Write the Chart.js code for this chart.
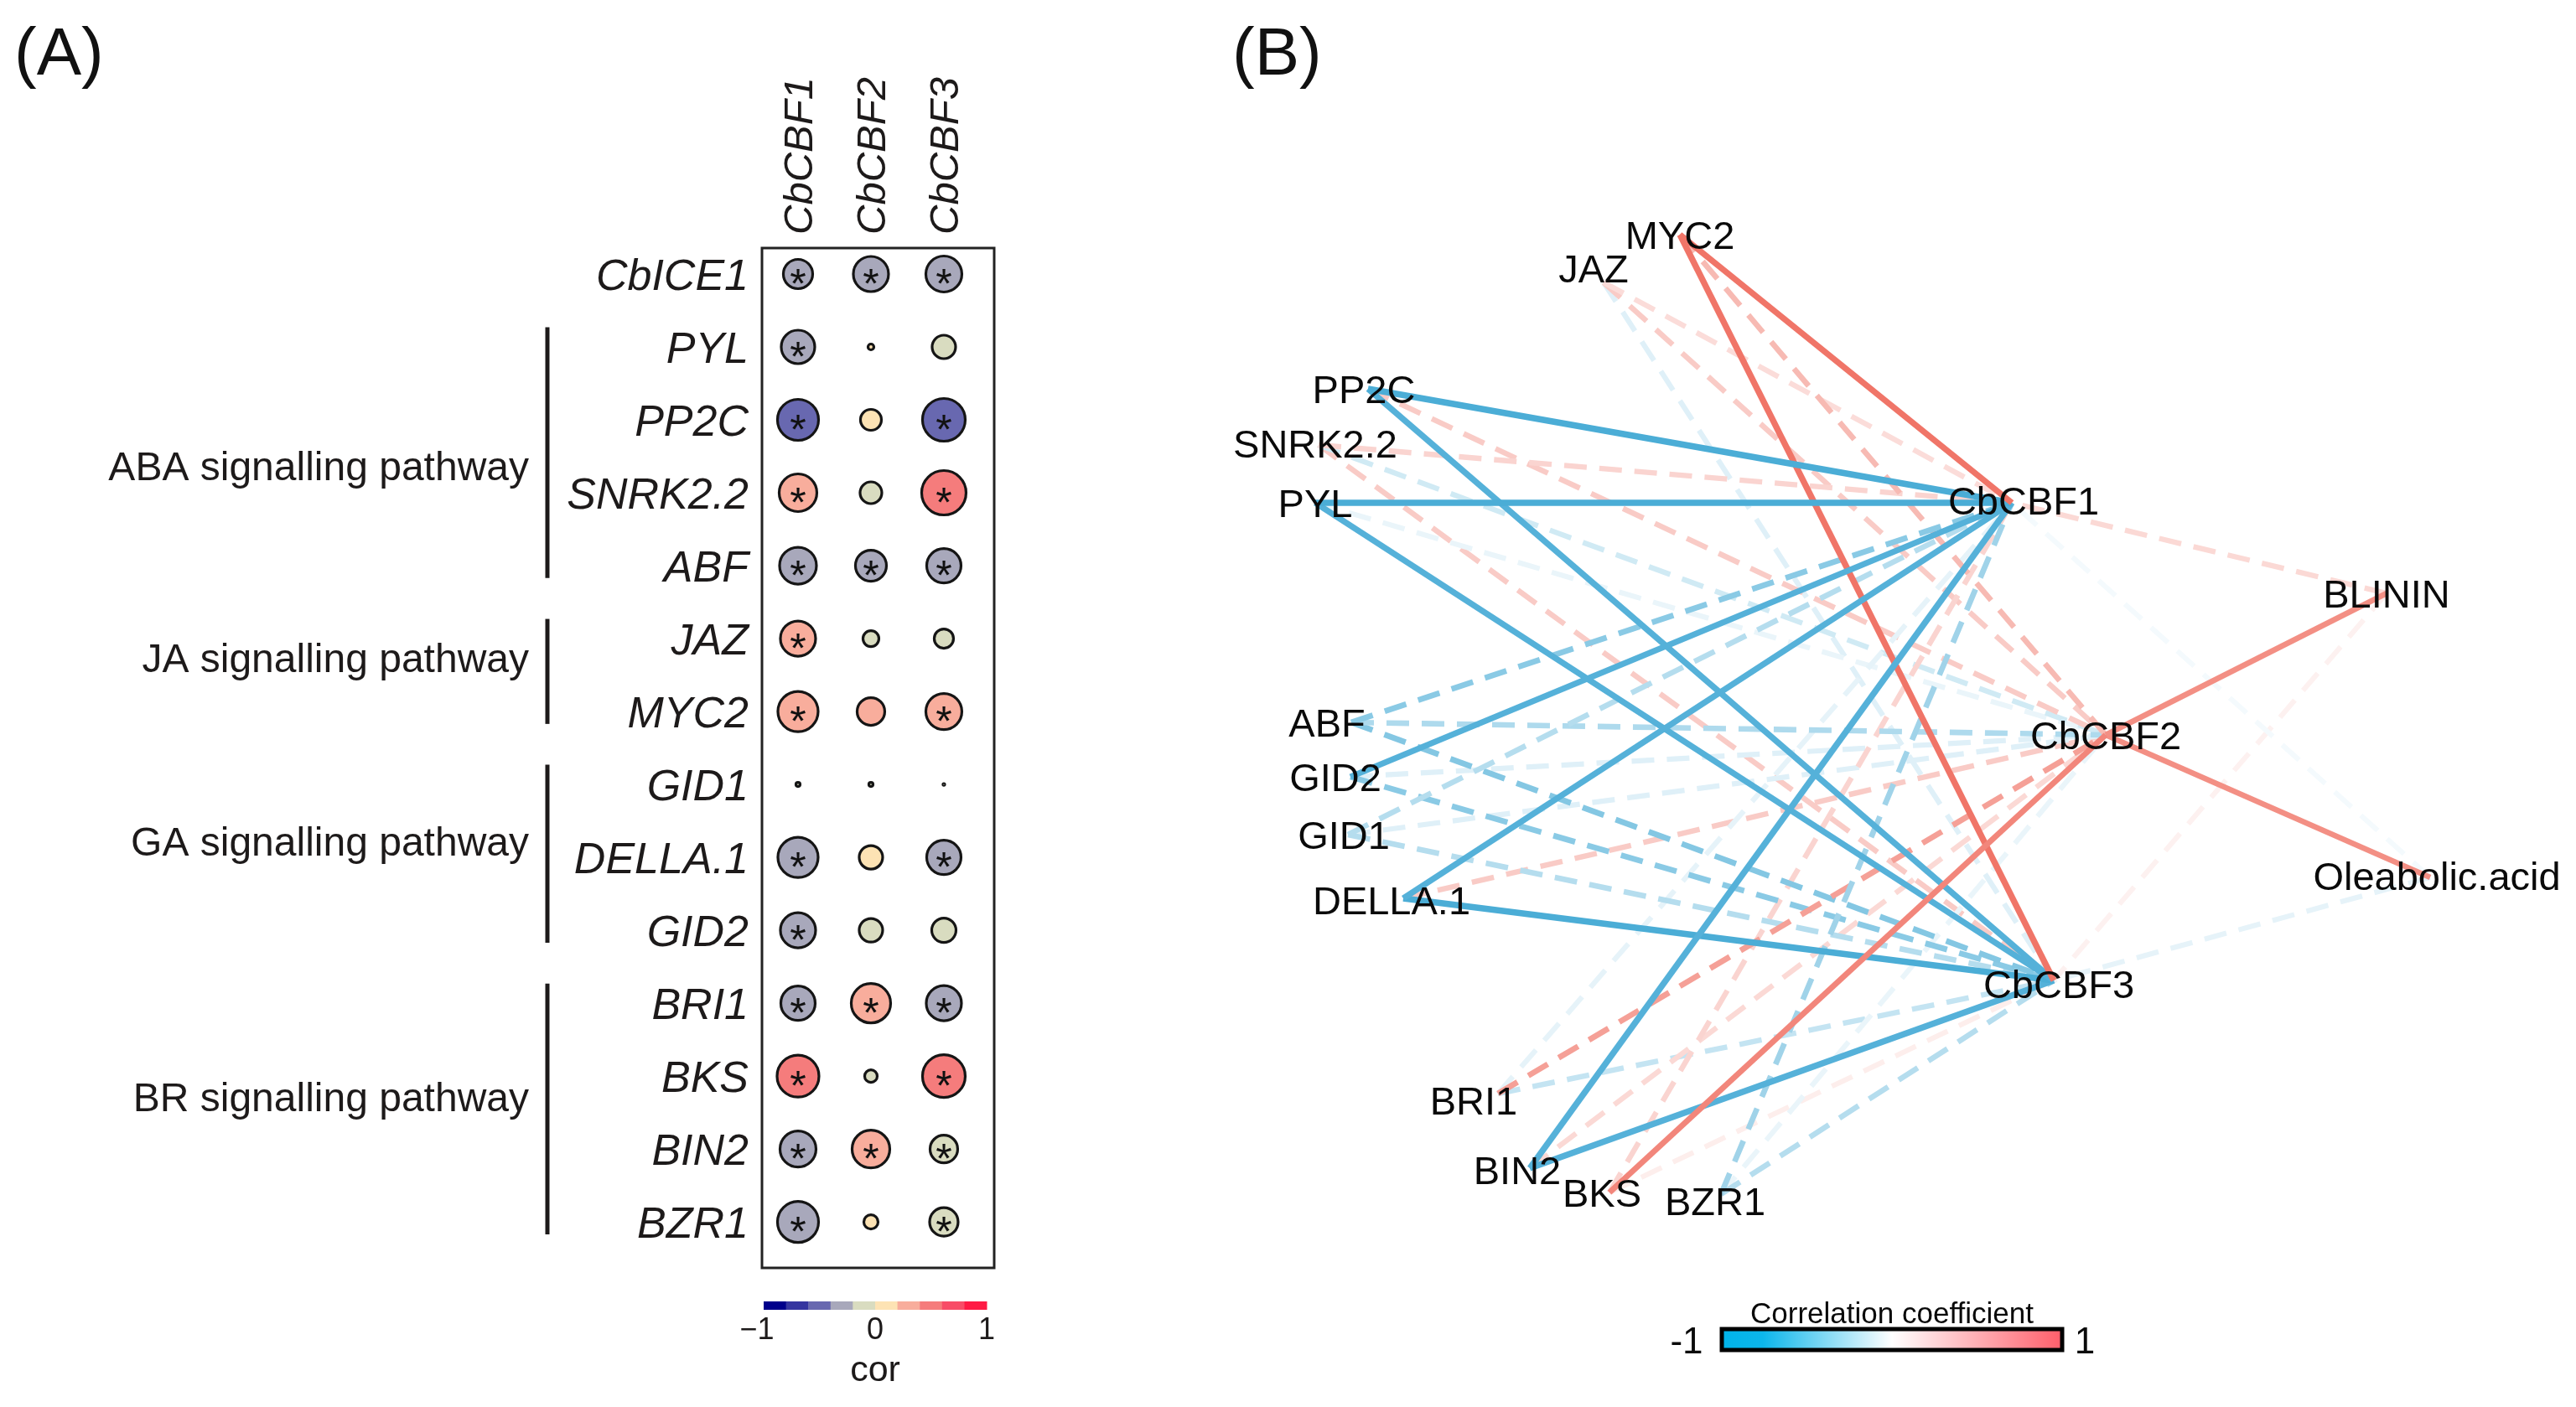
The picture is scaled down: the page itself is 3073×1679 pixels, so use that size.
<!DOCTYPE html>
<html><head><meta charset="utf-8">
<script src="https://cdn.jsdelivr.net/npm/chart.js@4.4.1/dist/chart.umd.min.js"></script>
<style>
html,body{margin:0;padding:0;background:#fff;width:3073px;height:1679px;overflow:hidden;}
canvas{position:absolute;top:0;}
#cA{left:0;} #cB{left:1450px;}
</style></head><body>
<canvas id="cA" width="1450" height="1679" style="width:1450px;height:1679px"></canvas>
<canvas id="cB" width="1623" height="1679" style="width:1623px;height:1679px"></canvas>
<script>
// ---------------- Panel A data ----------------
const genesA = ['CbICE1','PYL','PP2C','SNRK2.2','ABF','JAZ','MYC2','GID1','DELLA.1','GID2','BRI1','BKS','BIN2','BZR1'];
const targetsA = ['CbCBF1','CbCBF2','CbCBF3'];
const corCBF1 = [-0.3,-0.3,-0.5, 0.3,-0.3, 0.3, 0.3,-0.05,-0.3,-0.3,-0.3, 0.5,-0.3,-0.3];
const corCBF2 = [-0.3, 0.05,0.1,-0.1,-0.3,-0.1, 0.3,-0.05, 0.1,-0.1, 0.3,-0.1, 0.3, 0.1];
const corCBF3 = [-0.3,-0.1,-0.5, 0.5,-0.3,-0.1, 0.3,-0.05,-0.3,-0.1,-0.3, 0.5,-0.1,-0.1];
const sizeCBF1 = [19,21.5,26,24,23.5,22.5,25.5,4,25.5,22.5,22,26.5,23,26];
const sizeCBF2 = [22.5,5,14,14.5,20,11,18,4,15.5,15.5,25,9,24,10];
const sizeCBF3 = [23,15.5,27,28,22,13,23,2,22,16,22.5,27,18,18.5];
const sigCBF1 = [1,1,1,1,1,1,1,0,1,1,1,1,1,1];
const sigCBF2 = [1,0,0,0,1,0,0,0,0,0,1,0,1,0];
const sigCBF3 = [1,0,1,1,1,0,1,0,1,0,1,1,1,1];
const pathwayNames = ['ABA signalling pathway','JA signalling pathway','GA signalling pathway','BR signalling pathway'];
const pathwayFirst = [1,5,7,10];
const pathwayLast  = [4,6,9,13];
const corBarTicks = [-1,0,1];
const corBarTickLabels = ['\u22121','0','1'];

// ---------------- Panel B data ----------------
const netNodes = ['MYC2','JAZ','PP2C','SNRK2.2','PYL','ABF','GID2','GID1','DELLA.1','BRI1','BIN2','BKS','BZR1','BLININ','Oleabolic.acid','CbCBF1','CbCBF2','CbCBF3'];
const nodeX = [554,463,182,123,119,162,161,158,224,337,375,470,603,1397,1449,950,1062,1000];
const nodeY = [280,337,464,531,600,862,927,996,1072,1305,1394,1423,1425,708,1047,600,877,1170];
const netSources = ['MYC2','JAZ','PP2C','SNRK2.2','PYL','ABF','GID2','GID1','DELLA.1','BRI1','BIN2','BKS','BZR1','BLININ','Oleabolic.acid'];
const netTargets = ['CbCBF1','CbCBF2','CbCBF3'];
const edgeCorCBF1 = [0.80, 0.20,-0.85, 0.25,-0.85,-0.55,-0.80,-0.35,-0.80,-0.12,-0.80, 0.25,-0.45, 0.22,-0.05];
const edgeCorCBF2 = [0.40, 0.30, 0.30,-0.22,-0.10,-0.38,-0.15,-0.15, 0.30, 0.55, 0.22, 0.70,-0.10, 0.65, 0.65];
const edgeCorCBF3 = [0.80,-0.15,-0.80, 0.30,-0.80,-0.58,-0.55,-0.35,-0.85,-0.28,-0.80, 0.10,-0.35, 0.08,-0.12];
const edgeSigCBF1 = [1,0,1,0,1,0,1,0,1,0,1,0,0,0,0];
const edgeSigCBF2 = [0,0,0,0,0,0,0,0,0,0,0,1,0,1,1];
const edgeSigCBF3 = [1,0,1,0,1,0,0,0,1,0,1,0,0,0,0];

// ---------------- styles ----------------
const FONT = "'Liberation Sans', Arial, sans-serif";
const TXT = '#1d1a1a';
const binColors = ['#00008B','#3535A0','#6868B0','#A8A8BB','#D9DCC0','#FDE3B4','#F8AD9C','#F57C7C','#F84C67','#FF1A44'];
function corColor(v){ let k=Math.floor((v+1)/0.2); if(k>9)k=9; if(k<0)k=0; return binColors[k]; }
function edgeColor(r){
  const a=Math.min(1,Math.abs(r));
  const end = r<0 ? [43,158,207] : [236,82,66];
  const c = end.map(e=>Math.round(255-a*(255-e)));
  return `rgb(${c[0]},${c[1]},${c[2]})`;
}
const labelShift = {JAZ:[-12,-17],PP2C:[-5,0],'SNRK2.2':[-4,-2],ABF:[-29,0],GID2:[-18,0],GID1:[-5,0],'DELLA.1':[-14,2],BRI1:[-29,8],BIN2:[-15,2],BKS:[-9,0],BZR1:[-7,8],'Oleabolic.acid':[8,-2],CbCBF1:[14,-3],CbCBF3:[6,4]};
const pathwayLabelRow = [2.63,5.26,7.78,11.28];

// ---------------- Chart A ----------------
const corCols=[corCBF1,corCBF2,corCBF3], sizeCols=[sizeCBF1,sizeCBF2,sizeCBF3], sigCols=[sigCBF1,sigCBF2,sigCBF3];
const datasetsA = targetsA.map((t,j)=>({
  label:t,
  data: genesA.map((g,i)=>({x:j,y:i,r:Math.max(1,sizeCols[j][i]-1.5)})),
  backgroundColor: genesA.map((g,i)=>corColor(corCols[j][i])),
  borderColor:'#151515', borderWidth:3.2, hoverRadius:0
}));

const panelAPlugin = {
  id:'panelA',
  afterDatasetsDraw(chart){
    const {ctx, chartArea:ca, scales:{x,y}} = chart;
    ctx.save();
    // asterisks
    ctx.fillStyle='#111'; ctx.font=`50px ${FONT}`; ctx.textAlign='center'; ctx.textBaseline='alphabetic';
    chart.data.datasets.forEach((ds,j)=>{
      chart.getDatasetMeta(j).data.forEach((el,i)=>{ if(sigCols[j][i]) ctx.fillText('*', el.x, el.y+29); });
    });
    // box
    ctx.strokeStyle='#222'; ctx.lineWidth=3;
    ctx.strokeRect(ca.left, ca.top, ca.right-ca.left, ca.bottom-ca.top);
    // row labels
    ctx.fillStyle=TXT; ctx.font=`italic 52px ${FONT}`; ctx.textAlign='right';
    genesA.forEach((g,i)=>{ ctx.fillText(g, ca.left-16, y.getPixelForValue(i)+18.6); });
    // column headers
    ctx.font=`italic 49px ${FONT}`; ctx.textAlign='left';
    targetsA.forEach((t,j)=>{
      ctx.save(); ctx.translate(x.getPixelForValue(j), ca.top-16); ctx.rotate(-Math.PI/2);
      ctx.fillText(t, 0, 17.5); ctx.restore();
    });
    // brackets & pathway labels
    ctx.strokeStyle=TXT; ctx.lineWidth=5; ctx.lineCap='butt';
    const bx = ca.left-256;
    ctx.font=`48px ${FONT}`; ctx.textAlign='right';
    pathwayNames.forEach((p,k)=>{
      ctx.beginPath();
      ctx.moveTo(bx, y.getPixelForValue(pathwayFirst[k]-0.27));
      ctx.lineTo(bx, y.getPixelForValue(pathwayLast[k]+0.17));
      ctx.stroke();
      ctx.fillText(p, bx-22, y.getPixelForValue(pathwayLabelRow[k])+17);
    });
    // colour bar
    const cbL=ca.left+2, cbR=ca.right-9, cbT=ca.bottom+40, cbH=10;
    const w=(cbR-cbL)/binColors.length;
    binColors.forEach((c,k)=>{ ctx.fillStyle=c; ctx.fillRect(cbL+k*w, cbT, w+0.5, cbH); });
    ctx.fillStyle=TXT; ctx.font=`36px ${FONT}`; ctx.textAlign='center';
    corBarTicks.forEach((v,k)=>{
      let px = cbL + (v+1)/2*(cbR-cbL);
      if(v===-1) px -= 8;
      ctx.fillText(corBarTickLabels[k], px, cbT+45);
    });
    ctx.font=`43px ${FONT}`;
    ctx.fillText('cor', (cbL+cbR)/2, cbT+95);
    // panel tag
    ctx.textAlign='left'; ctx.font=`80px ${FONT}`; ctx.fillStyle='#111';
    ctx.fillText('(A)', 17, 89);
    ctx.restore();
  }
};

new Chart(document.getElementById('cA'), {
  type:'bubble',
  data:{datasets:datasetsA},
  options:{
    responsive:false, animation:false, events:[],
    layout:{padding:{left:909,right:264,top:296,bottom:166}},
    scales:{
      x:{type:'linear',min:-0.494,max:2.69,display:false},
      y:{type:'linear',min:-0.356,max:13.63,reverse:true,display:false}
    },
    plugins:{legend:{display:false},tooltip:{enabled:false}}
  },
  plugins:[panelAPlugin]
});

// ---------------- Chart B ----------------
const edgeCors=[edgeCorCBF1,edgeCorCBF2,edgeCorCBF3], edgeSigs=[edgeSigCBF1,edgeSigCBF2,edgeSigCBF3];
const idx = n => netNodes.indexOf(n);
const datasetsB = [];
netTargets.forEach((t,j)=>{
  netSources.forEach((s,i)=>{
    const r=edgeCors[j][i], sig=edgeSigs[j][i]===1;
    const a=idx(s), b=idx(t);
    datasetsB.push({
      label:s+'-'+t,
      data:[{x:nodeX[a],y:nodeY[a]},{x:nodeX[b],y:nodeY[b]}],
      showLine:true, pointRadius:0, pointHoverRadius:0,
      borderColor:edgeColor(r), borderWidth: sig ? 4.5+3.5*Math.abs(r) : 6+1.5*Math.abs(r),
      borderDash: sig?[]:[27,15], borderCapStyle:'butt',
      order: sig?0:(Math.abs(r)>0.3?1:2)
    });
  });
});

const panelBPlugin = {
  id:'panelB',
  afterDatasetsDraw(chart){
    const {ctx, scales:{x,y}} = chart;
    ctx.save();
    ctx.fillStyle='#0a0a0a'; ctx.font=`47px ${FONT}`; ctx.textAlign='center'; ctx.textBaseline='alphabetic';
    netNodes.forEach((n,i)=>{
      const s = labelShift[n]||[0,0];
      ctx.fillText(n, x.getPixelForValue(nodeX[i])+s[0], y.getPixelForValue(nodeY[i])+s[1]+16.8);
    });
    // legend
    const L=604, R=1010, T=1586, B=1611;
    const g=ctx.createLinearGradient(L,0,R,0);
    g.addColorStop(0,'#00b4ea'); g.addColorStop(0.12,'#0cb6eb'); g.addColorStop(0.5,'#ffffff'); g.addColorStop(1,'#ff5e6a');
    ctx.fillStyle=g; ctx.fillRect(L,T,R-L,B-T);
    ctx.strokeStyle='#000'; ctx.lineWidth=5; ctx.strokeRect(L,T,R-L,B-T);
    ctx.fillStyle='#0a0a0a'; ctx.font=`35px ${FONT}`;
    ctx.fillText('Correlation coefficient', (L+R)/2, 1579);
    ctx.font=`44px ${FONT}`;
    ctx.fillText('-1', L-42, 1615);
    ctx.fillText('1', R+27, 1615);
    ctx.textAlign='left'; ctx.font=`80px ${FONT}`; ctx.fillStyle='#111';
    ctx.fillText('(B)', 20, 89);
    ctx.restore();
  }
};

new Chart(document.getElementById('cB'), {
  type:'scatter',
  data:{datasets:datasetsB},
  options:{
    responsive:false, animation:false, events:[],
    layout:{padding:0},
    scales:{
      x:{type:'linear',min:0,max:1623,display:false},
      y:{type:'linear',min:0,max:1679,reverse:true,display:false}
    },
    plugins:{legend:{display:false},tooltip:{enabled:false}}
  },
  plugins:[panelBPlugin]
});
</script>
</body></html>
